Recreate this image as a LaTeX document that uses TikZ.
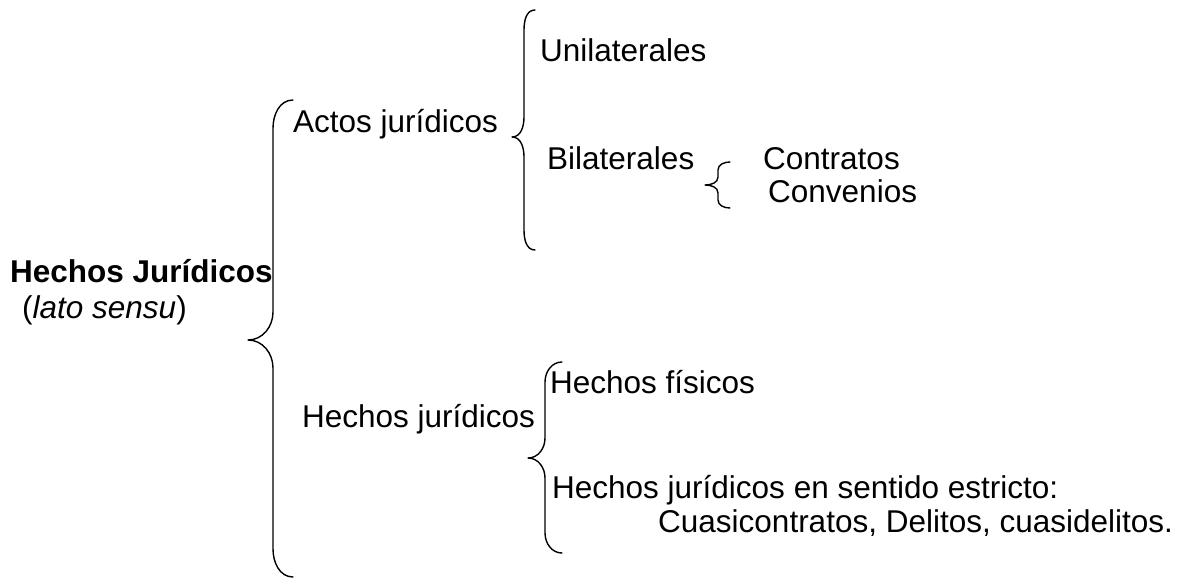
\documentclass[tikz,border=0pt]{standalone}
\usepackage{fontspec}
\setmainfont{Liberation Sans}
\newcommand{\mybrace}[7]{% xl xe xt yt ym yb r
  \draw[bracestyle] (#2,#4) to[out=180,in=90] (#1,#4+#7) -- (#1,#5-#7)
    to[out=-90,in=0] (#3,#5) to[out=0,in=90] (#1,#5+#7) -- (#1,#6-#7)
    to[out=-90,in=180] (#2,#6);}
\begin{document}
\begin{tikzpicture}[x=1pt,y=-1pt,
  lbl/.style={anchor=base west,inner sep=0pt,font=\fontsize{31.5}{38}\selectfont},
  bracestyle/.style={line width=1.4pt,line cap=round,line join=round}]
\useasboundingbox (0,0) rectangle (1193,580);
\node[lbl,font=\fontsize{31.5}{38}\selectfont\bfseries] (root) at (10,282) {Hechos Jurídicos};
\node[lbl] (lato) at (22,318) {(\textit{lato sensu})};
\node[lbl] (actos) at (293,133) {Actos jurídicos};
\node[lbl] (uni) at (540,62) {Unilaterales};
\node[lbl] (bil) at (547,170) {Bilaterales};
\node[lbl] (contr) at (763,170) {Contratos};
\node[lbl] (conv) at (768,203) {Convenios};
\node[lbl] (hj) at (302,427) {Hechos jurídicos};
\node[lbl] (hf) at (550,393) {Hechos físicos};
\node[lbl] (hje) at (552,498) {Hechos jurídicos en sentido estricto:};
\node[lbl] (cuasi) at (658,532) {Cuasicontratos, Delitos, cuasidelitos.};
% braces
\mybrace{273}{293}{248}{100}{340}{577}{28}
\mybrace{524}{535}{512}{10}{137}{250}{20}
\mybrace{718}{730}{705}{162}{185}{208}{8}
\mybrace{545}{562}{528}{362}{458}{553}{20}
\end{tikzpicture}
\end{document}
